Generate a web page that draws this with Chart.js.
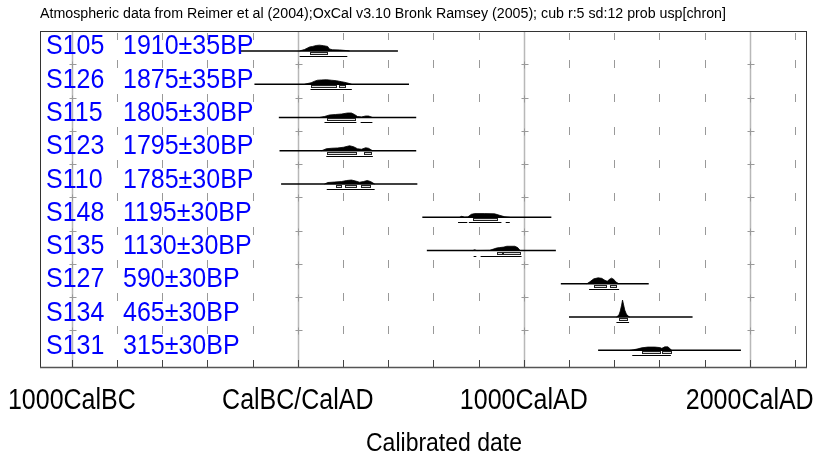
<!DOCTYPE html>
<html>
<head>
<meta charset="utf-8">
<script src="https://cdn.jsdelivr.net/npm/chart.js@4.4.0/dist/chart.umd.min.js"></script>
<style>
html, body { margin: 0; padding: 0; background: #fff; }
#wrap { width: 818px; height: 459px; }
</style>
</head>
<body>
<div id="wrap"><canvas id="oxcal" width="818" height="459"></canvas></div>
<script>
// samples, top row first
const sampleNames = ['S105', 'S126', 'S115', 'S123', 'S110', 'S148', 'S135', 'S127', 'S134', 'S131'];
const bpLabels = ['1910±35BP', '1875±35BP', '1805±30BP', '1795±30BP', '1785±30BP',
                  '1195±30BP', '1130±30BP', '590±30BP', '465±30BP', '315±30BP'];

// extent of the horizontal line of each row (cal years, BC negative)
const rangeStart = [-258, -192, -84, -81, -74, 551, 571, 1164, 1200, 1329];
const rangeEnd   = [443, 492, 524, 524, 529, 1122, 1142, 1553, 1747, 1961];

// calibrated probability distributions (relative heights)
const distYears = [
    [8, 30, 43, 52, 65, 82, 96, 114, 132, 140, 154, 185, 214, 229],
    [30, 59, 74, 87, 105, 127, 149, 171, 194, 216, 238],
    [96, 118, 140, 167, 194, 220, 237, 251, 264, 282, 300, 313, 331],
    [105, 126, 149, 176, 202, 229, 247, 264, 282, 300, 313, 331],
    [118, 133, 163, 194, 216, 237, 256, 273, 291, 307, 322, 340],
    [716, 725, 739, 752, 768, 783, 827, 871, 893, 916, 938],
    [774, 783, 792, 849, 879, 893, 912, 925, 960, 973, 984],
    [1279, 1292, 1310, 1329, 1345, 1359, 1370, 1376, 1388, 1398, 1407, 1421],
    [1410, 1421, 1427, 1433, 1437, 1441, 1447, 1454, 1462, 1469],
    [1469, 1484, 1505, 1521, 1549, 1580, 1602, 1611, 1624, 1638, 1650, 1655]
];
const distHeights = [
    [0, 1.5, 3, 4, 4.5, 5.5, 5.8, 5.3, 4.5, 2, 1.2, 1, 0.4, 0],
    [0, 1.5, 3, 4, 4.3, 4.5, 4, 3.5, 2.5, 1.5, 0],
    [0, 1, 2.5, 3, 3.5, 4.5, 4.5, 3, 1, 0.5, 1.5, 1.5, 0],
    [0, 2, 2.5, 2.8, 3.5, 5, 4, 2, 1.5, 3, 2.5, 0],
    [0, 1.5, 2, 2.5, 3.5, 4, 3, 1.8, 2.5, 3.5, 2.5, 0],
    [0, 1, 0, 0.3, 3, 3.7, 3.7, 3.5, 2, 0.5, 0],
    [0, 0.8, 0, 0.2, 2.5, 3, 3.5, 4.3, 4.3, 3, 0],
    [0, 2, 5, 6, 5.5, 3.5, 2.5, 4, 5.7, 4.5, 2, 0],
    [0, 2, 6, 12, 17, 13, 7, 3, 1, 0],
    [0, 0.5, 1.5, 2.5, 3.3, 3.3, 2.8, 2, 3.5, 3.5, 1, 0]
];

// 68.2% and 95.4% ranges
const sigma1 = [
    [[52, 130]],
    [[59, 167], [182, 210]],
    [[128, 251]],
    [[128, 259], [295, 325]],
    [[167, 192], [210, 259], [281, 321]],
    [[775, 882]],
    [[883, 904], [908, 982]],
    [[1310, 1363], [1380, 1407]],
    [[1421, 1457]],
    [[1521, 1602], [1610, 1650]]
];
const sigma2 = [
    [[8, 219]],
    [[56, 239]],
    [[118, 259], [278, 330]],
    [[126, 332]],
    [[128, 340]],
    [[709, 750], [757, 901], [920, 938]],
    [[778, 790], [809, 990]],
    [[1289, 1422]],
    [[1410, 1466]],
    [[1480, 1651]]
];

const tickYears = [-1000, 0, 1000, 2000];
const tickLabels = ['1000CalBC', 'CalBC/CalAD', '1000CalAD', '2000CalAD'];
const titleText = 'Atmospheric data from Reimer et al (2004);OxCal v3.10 Bronk Ramsey (2005); cub r:5 sd:12 prob usp[chron]';
const axisTitle = 'Calibrated date';

const X_MIN = -1141, X_MAX = 2249;
const ROWS = sampleNames.length;
const Y_MAX = ROWS + 0.1;
const PX_PER_ROW = 33.27;
const FONT = '"Liberation Sans", Arial, sans-serif';

function baseline(k) {
    return (ROWS - 1 - k) + 0.5;
}

const datasets = [];
sampleNames.forEach((name, k) => {
    const b = baseline(k);
    datasets.push({
        label: name + ' dist',
        data: distYears[k].map((yr, i) => ({ x: yr, y: b + distHeights[k][i] / PX_PER_ROW })),
        borderColor: '#000',
        backgroundColor: '#000',
        borderWidth: 0.8,
        pointRadius: 0,
        tension: 0,
        fill: { value: b }
    });
    datasets.push({
        label: name + ' range',
        data: [{ x: rangeStart[k], y: b }, { x: rangeEnd[k], y: b }],
        borderColor: '#000',
        borderWidth: 1.5,
        pointRadius: 0,
        fill: false
    });
});

function stretchText(ctx, text, px, py, align, sy) {
    ctx.save();
    ctx.translate(px, py);
    ctx.scale(1, sy);
    ctx.textAlign = align;
    ctx.textBaseline = 'alphabetic';
    ctx.fillText(text, 0, 0);
    ctx.restore();
}

const oxcalPlugin = {
    id: 'oxcal',
    beforeDatasetsDraw(chart) {
        const { ctx, chartArea: a, scales: { x, y } } = chart;
        ctx.save();
        for (let yr = -1000; yr <= 2200; yr += 200) {
            const px = Math.round(x.getPixelForValue(yr)) + 0.5;
            if (yr % 1000 === 0) {
                ctx.strokeStyle = '#b8b8b8';
                ctx.lineWidth = 1.5;
                ctx.beginPath();
                ctx.moveTo(px, a.top);
                ctx.lineTo(px, a.bottom);
                ctx.stroke();
                ctx.strokeStyle = '#999';
                ctx.lineWidth = 1;
                for (let j = 1; j < ROWS; j++) {
                    const py = Math.round(y.getPixelForValue(j + 0.1)) + 0.5;
                    ctx.beginPath();
                    ctx.moveTo(px - 3, py);
                    ctx.lineTo(px + 4, py);
                    ctx.moveTo(px, py - 3);
                    ctx.lineTo(px, py + 4);
                    ctx.stroke();
                }
            } else {
                ctx.strokeStyle = '#999';
                ctx.lineWidth = 1;
                ctx.beginPath();
                ctx.moveTo(px, a.top + 2);
                ctx.lineTo(px, a.top + 9);
                for (let j = 1; j < ROWS; j++) {
                    const py = Math.round(y.getPixelForValue(j + 0.1));
                    ctx.moveTo(px, py - 4);
                    ctx.lineTo(px, py + 4);
                }
                ctx.stroke();
            }
            // ticks on the bottom axis
            ctx.strokeStyle = '#444';
            ctx.lineWidth = 1;
            ctx.beginPath();
            ctx.moveTo(px, a.bottom - 7);
            ctx.lineTo(px, a.bottom);
            ctx.stroke();
        }
        ctx.restore();
    },
    afterDatasetsDraw(chart) {
        const { ctx, chartArea: a, scales: { x, y } } = chart;
        ctx.save();

        // probability ranges under each distribution
        sampleNames.forEach((name, k) => {
            const py = Math.round(y.getPixelForValue(baseline(k)));
            ctx.strokeStyle = '#222';
            ctx.lineWidth = 1;
            sigma1[k].forEach(r => {
                const x1 = Math.round(x.getPixelForValue(r[0])) + 0.5;
                const x2 = Math.round(x.getPixelForValue(r[1])) + 0.5;
                ctx.fillStyle = '#ddd';
                ctx.fillRect(x1, py + 1.5, x2 - x1, 2);
                ctx.strokeRect(x1, py + 1.5, x2 - x1, 2);
            });
            ctx.fillStyle = '#000';
            sigma2[k].forEach(r => {
                const x1 = x.getPixelForValue(r[0]);
                const x2 = x.getPixelForValue(r[1]);
                ctx.fillRect(x1, py + 5, x2 - x1, 1);
            });
        });

        // row labels
        ctx.fillStyle = '#0000ff';
        ctx.font = '25px ' + FONT;
        sampleNames.forEach((name, k) => {
            const py = y.getPixelForValue(baseline(k)) + 3.5;
            stretchText(ctx, name, a.left + 6, py, 'left', 1.12);
            stretchText(ctx, bpLabels[k], a.left + 83, py, 'left', 1.12);
        });

        // frame
        ctx.strokeStyle = '#333';
        ctx.lineWidth = 1;
        ctx.strokeRect(a.left + 0.5, a.top + 0.5, a.right - a.left, a.bottom - a.top);
        ctx.strokeStyle = '#555';
        ctx.lineWidth = 1.5;
        ctx.beginPath();
        ctx.moveTo(a.left, a.bottom + 0.5);
        ctx.lineTo(a.right + 1, a.bottom + 0.5);
        ctx.stroke();

        // x tick labels
        ctx.fillStyle = '#000';
        ctx.font = '25px ' + FONT;
        tickYears.forEach((yr, i) => {
            stretchText(ctx, tickLabels[i], x.getPixelForValue(yr), 409, 'center', 1.15);
        });

        // axis title
        ctx.font = '23px ' + FONT;
        stretchText(ctx, axisTitle, 444, 451, 'center', 1.12);

        // title fitted to width
        ctx.font = '13px ' + FONT;
        const w = ctx.measureText(titleText).width;
        const size = 13 * 686 / w;
        ctx.font = size.toFixed(2) + 'px ' + FONT;
        stretchText(ctx, titleText, 40, 18, 'left', 1.0);

        ctx.restore();
    }
};

new Chart(document.getElementById('oxcal'), {
    type: 'line',
    data: { datasets },
    options: {
        responsive: false,
        animation: false,
        devicePixelRatio: 1,
        layout: { padding: { left: 40, top: 31, right: 12, bottom: 92 } },
        scales: {
            x: { type: 'linear', min: X_MIN, max: X_MAX, display: false },
            y: { type: 'linear', min: 0, max: Y_MAX, display: false }
        },
        plugins: {
            legend: { display: false },
            tooltip: { enabled: false }
        }
    },
    plugins: [oxcalPlugin]
});
</script>
</body>
</html>
